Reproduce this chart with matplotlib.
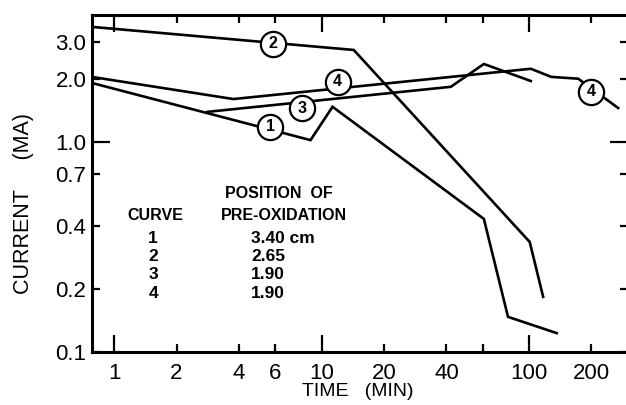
import matplotlib
matplotlib.use("Agg")
import matplotlib.pyplot as plt
from matplotlib.ticker import FixedLocator, FixedFormatter

plt.rcParams['font.family'] = ['Liberation Sans', 'DejaVu Sans']

# time (min) vs current (mA) for the four pre-oxidation positions
curve1_t = [0.78, 8.85, 11.3, 60.6, 79.2, 136]
curve1_i = [1.91, 1.02, 1.47, 0.43, 0.147, 0.123]
curve2_t = [0.78, 14.3, 100.8, 117]
curve2_i = [3.53, 2.74, 0.334, 0.183]
curve3_t = [2.81, 42, 60.6, 102]
curve3_i = [1.39, 1.83, 2.35, 1.95]
curve4_t = [0.78, 3.76, 102, 128, 172.6, 269]
curve4_i = [2.04, 1.60, 2.23, 2.04, 2.0, 1.45]

# circled curve numbers sitting on the lines
marker_t = [5.67, 5.81, 8.09, 11.95, 199]
marker_i = [1.18, 2.93, 1.45, 1.93, 1.73]
marker_lbl = ['1', '2', '3', '4', '4']

# table inside the plot
curve_ids = ['1', '2', '3', '4']
positions = ['3.40 cm', '2.65', '1.90', '1.90']

x_major = [1, 10, 100]
x_minor = [2, 4, 6, 20, 40, 60, 200]
x_minor_lbl = ['2', '4', '6', '20', '40', '', '200']
y_major = [1.0]
y_minor = [0.1, 0.2, 0.4, 0.7, 2.0, 3.0]
y_minor_lbl = ['0.1', '0.2', '0.4', '0.7', '2.0', '3.0']

fig = plt.figure(figsize=(6.26, 4.05), dpi=100)
ax = fig.add_axes([92 / 626, 53 / 405, 536 / 626, 337 / 405])
ax.set_xscale('log')
ax.set_yscale('log')
ax.set_xlim(0.783, 300)
ax.set_ylim(0.1, 4.02)

lw = 1.9
for t, i in [(curve1_t, curve1_i), (curve2_t, curve2_i),
             (curve3_t, curve3_i), (curve4_t, curve4_i)]:
    ax.plot(t, i, color='black', lw=lw, solid_joinstyle='miter', zorder=2)

ax.scatter(marker_t, marker_i, s=330, facecolor='white', edgecolor='black',
           linewidth=1.6, zorder=3)
for t, i, s in zip(marker_t, marker_i, marker_lbl):
    ax.text(t, i, s, ha='center', va='center', fontsize=11.5,
            fontweight='bold', zorder=4)

for sp in ax.spines.values():
    sp.set_linewidth(2.2)

ax.xaxis.set_major_locator(FixedLocator(x_major))
ax.xaxis.set_major_formatter(FixedFormatter(['1', '10', '100']))
ax.xaxis.set_minor_locator(FixedLocator(x_minor))
ax.xaxis.set_minor_formatter(FixedFormatter(x_minor_lbl))
ax.yaxis.set_major_locator(FixedLocator(y_major))
ax.yaxis.set_major_formatter(FixedFormatter(['1.0']))
ax.yaxis.set_minor_locator(FixedLocator(y_minor))
ax.yaxis.set_minor_formatter(FixedFormatter(y_minor_lbl))

ax.tick_params(axis='both', which='both', direction='in', labelsize=16,
               width=1.6, top=True, right=True)
ax.tick_params(axis='x', which='major', length=12.5, pad=8)
ax.tick_params(axis='x', which='minor', length=6, pad=8)
ax.tick_params(axis='y', which='major', length=13, pad=4)
ax.tick_params(axis='y', which='minor', length=5.5, pad=4)

# curve table
tx = ax.transAxes
ax.text(0.348, 0.469, 'POSITION  OF', transform=tx, ha='center', va='center',
        fontsize=11.5, fontweight='bold')
ax.text(0.359, 0.404, 'PRE-OXIDATION', transform=tx, ha='center', va='center',
        fontsize=11.5, fontweight='bold')
ax.text(0.118, 0.404, 'CURVE', transform=tx, ha='center', va='center',
        fontsize=11.5, fontweight='bold')
row_y = [0.338, 0.283, 0.229, 0.175]
for y, c, p in zip(row_y, curve_ids, positions):
    ax.text(0.114, y, c, transform=tx, ha='center', va='center',
            fontsize=12.5, fontweight='bold')
    ax.text(0.297, y, p, transform=tx, ha='left', va='center',
            fontsize=12.5, fontweight='bold')

fig.text(358 / 626, 1 - 391 / 405, 'TIME   (MIN)', ha='center', va='center',
         fontsize=14)
fig.text(24 / 626, 1 - 204 / 405, 'CURRENT     (MA)', ha='center',
         va='center', rotation=90, fontsize=15.5)

fig.savefig('out.png', dpi=100)
